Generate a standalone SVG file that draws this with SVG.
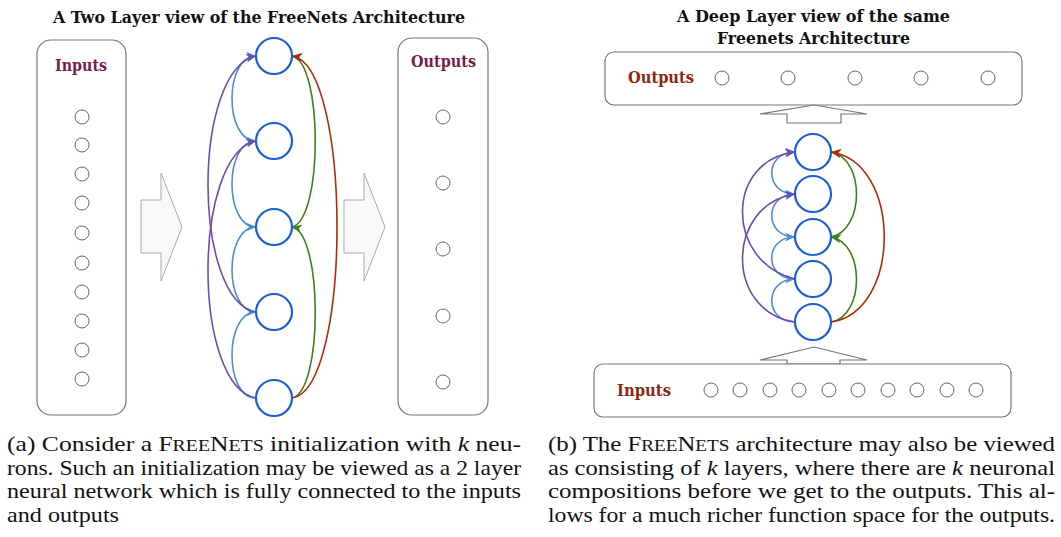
<svg xmlns="http://www.w3.org/2000/svg" width="1061" height="537" viewBox="0 0 1061 537">
<style>
.title{font-family:"DejaVu Serif",serif;font-weight:bold;font-size:17px;fill:#111;text-anchor:middle}
.lblL{font-family:"DejaVu Serif",serif;font-weight:bold;font-size:16px;fill:#7a1c4a;text-anchor:middle}
.lblR{font-family:"DejaVu Serif",serif;font-weight:bold;font-size:16px;fill:#8c2612;text-anchor:middle}
.box{fill:#fff;stroke:#777;stroke-width:1.2}
.io{fill:#fff;stroke:#666;stroke-width:1}
.neu{fill:#fff;stroke:#1a5fd6;stroke-width:2.2}
.bigarrow{fill:#f8f8f8;stroke:#aaa;stroke-width:1}
.uparrow{fill:#fff;stroke:#777;stroke-width:1.2}
.e{fill:none;stroke-width:1.6}
.lb{stroke:#4a8fd2;marker-end:url(#mLb)}
.pu{stroke:#6a4db3;marker-end:url(#mPu)}
.gr{stroke:#3c7f1c;marker-end:url(#mGr)}
.rd{stroke:#b02a06;marker-end:url(#mRd)}
.cap{font-family:"Liberation Serif",serif;font-size:22px;fill:#111}
.sc{font-size:17px}
</style>
<defs>
<marker id="mLb" markerUnits="userSpaceOnUse" markerWidth="11" markerHeight="9" refX="10" refY="4.5" orient="auto"><path d="M0,0 L10,4.5 L0,9 L3,4.5 z" fill="#4a8fd2"/></marker>
<marker id="mPu" markerUnits="userSpaceOnUse" markerWidth="11" markerHeight="9" refX="10" refY="4.5" orient="auto"><path d="M0,0 L10,4.5 L0,9 L3,4.5 z" fill="#6a4db3"/></marker>
<marker id="mGr" markerUnits="userSpaceOnUse" markerWidth="11" markerHeight="9" refX="10" refY="4.5" orient="auto"><path d="M0,0 L10,4.5 L0,9 L3,4.5 z" fill="#3c7f1c"/></marker>
<marker id="mRd" markerUnits="userSpaceOnUse" markerWidth="11" markerHeight="9" refX="10" refY="4.5" orient="auto"><path d="M0,0 L10,4.5 L0,9 L3,4.5 z" fill="#b02a06"/></marker>
</defs>
<rect width="1061" height="537" fill="#fff"/>

<!-- Titles -->
<text class="title" x="259" y="23" textLength="412" lengthAdjust="spacingAndGlyphs">A Two Layer view of the FreeNets Architecture</text>
<text class="title" x="813.5" y="22" textLength="273" lengthAdjust="spacingAndGlyphs">A Deep Layer view of the same</text>
<text class="title" x="813.5" y="44" textLength="193" lengthAdjust="spacingAndGlyphs">Freenets Architecture</text>

<!-- Left panel -->
<g id="inputsA">
<rect class="box" x="37" y="40" width="89" height="375" rx="14"/>
<text class="lblL" x="81" y="71" textLength="52" lengthAdjust="spacingAndGlyphs">Inputs</text>
<circle class="io" cx="82" cy="117" r="7"/><circle class="io" cx="82" cy="145" r="7"/>
<circle class="io" cx="82" cy="174" r="7"/><circle class="io" cx="82" cy="203" r="7"/>
<circle class="io" cx="82" cy="233" r="7"/><circle class="io" cx="82" cy="263" r="7"/>
<circle class="io" cx="82" cy="292" r="7"/><circle class="io" cx="82" cy="321" r="7"/>
<circle class="io" cx="82" cy="350" r="7"/><circle class="io" cx="82" cy="379" r="7"/>
</g>
<g id="arrowA1"><polygon class="bigarrow" points="141,200 161,200 161,173 182,227 161,281 161,253 141,253"/></g>
<g id="arrowA2"><polygon class="bigarrow" points="344,200 364,200 364,173 385,227 364,281 364,253 344,253"/></g>
<g id="outputsA">
<rect class="box" x="398" y="38" width="90" height="377" rx="14"/>
<text class="lblL" x="443.5" y="67" textLength="65" lengthAdjust="spacingAndGlyphs">Outputs</text>
<circle class="io" cx="443" cy="117" r="7"/><circle class="io" cx="443" cy="183" r="7"/>
<circle class="io" cx="443" cy="249" r="7"/><circle class="io" cx="443" cy="316" r="7"/>
<circle class="io" cx="443" cy="382" r="7"/>
</g>

<g id="connectorsA">
<path class="e lb" d="M256,141 C224,141 224,56 256,56"/>
<path class="e lb" d="M256,227 C224,227 224,141 256,141"/>
<path class="e lb" d="M256,312 C224,312 224,227 256,227"/>
<path class="e lb" d="M256,398 C224,398 224,312 256,312"/>
<path class="e pu" d="M256,312 C192,300 192,70 256,56"/>
<path class="e pu" d="M256,398 C192,386 192,155 256,141"/>
<path class="e gr" d="M292,227 C323,220 323,62 292,56"/>
<path class="e gr" d="M292,398 C323,392 323,233 292,227"/>
<path class="e rd" d="M292,398 C352,390 352,64 292,56"/>
</g>
<g id="neuA1"><circle class="neu" cx="274" cy="56" r="18"/></g>
<g id="neuA2"><circle class="neu" cx="274" cy="141" r="18"/></g>
<g id="neuA3"><circle class="neu" cx="274" cy="227" r="18"/></g>
<g id="neuA4"><circle class="neu" cx="274" cy="312" r="18"/></g>
<g id="neuA5"><circle class="neu" cx="274" cy="398" r="18"/></g>

<!-- Right panel -->
<g id="outputsB">
<rect class="box" x="605" y="52" width="417" height="53" rx="9"/>
<text class="lblR" x="661" y="83" textLength="66" lengthAdjust="spacingAndGlyphs">Outputs</text>
<circle class="io" cx="722" cy="78" r="7"/><circle class="io" cx="788" cy="78" r="7"/>
<circle class="io" cx="855" cy="78" r="7"/><circle class="io" cx="921" cy="78" r="7"/>
<circle class="io" cx="988" cy="78" r="7"/>
</g>
<g id="arrowB1"><polygon class="uparrow" points="814,105 867,114 841,114 841,123 787,123 787,114 760,114"/></g>
<g id="arrowB2"><polygon class="uparrow" points="814,347 867,360 840,360 840,364 787,364 787,360 760,360"/></g>
<g id="inputsB">
<rect class="box" x="594" y="364" width="417" height="53" rx="9"/>
<text class="lblR" x="644" y="396" textLength="54" lengthAdjust="spacingAndGlyphs">Inputs</text>
<circle class="io" cx="711" cy="390" r="7"/><circle class="io" cx="740" cy="390" r="7"/>
<circle class="io" cx="770" cy="390" r="7"/><circle class="io" cx="799" cy="390" r="7"/>
<circle class="io" cx="829" cy="390" r="7"/><circle class="io" cx="858" cy="390" r="7"/>
<circle class="io" cx="888" cy="390" r="7"/><circle class="io" cx="917" cy="390" r="7"/>
<circle class="io" cx="947" cy="390" r="7"/><circle class="io" cx="976" cy="390" r="7"/>
</g>

<g id="connectorsB">
<path class="e lb" d="M795,194 C764,194 764,152 795,152"/>
<path class="e lb" d="M795,237 C764,237 764,194 795,194"/>
<path class="e lb" d="M795,279 C764,279 764,237 795,237"/>
<path class="e lb" d="M795,322 C764,322 764,279 795,279"/>
<path class="e pu" d="M795,279 C725,262 725,160 795,152"/>
<path class="e pu" d="M795,322 C725,312 725,205 795,194"/>
<path class="e gr" d="M831,237 C865,230 865,158 831,152"/>
<path class="e gr" d="M831,322 C865,316 865,243 831,237"/>
<path class="e rd" d="M831,322 C902,312 902,162 831,152"/>
</g>
<g id="neuB1"><circle class="neu" cx="813" cy="152" r="18"/></g>
<g id="neuB2"><circle class="neu" cx="813" cy="194" r="18"/></g>
<g id="neuB3"><circle class="neu" cx="813" cy="237" r="18"/></g>
<g id="neuB4"><circle class="neu" cx="813" cy="279" r="18"/></g>
<g id="neuB5"><circle class="neu" cx="813" cy="322" r="18"/></g>

<!-- Captions -->
<g id="captionA" class="cap">
<text x="7" y="451" textLength="514" lengthAdjust="spacingAndGlyphs">(a) Consider a F<tspan class="sc">REE</tspan>N<tspan class="sc">ETS</tspan> initialization with <tspan font-style="italic">k</tspan> neu-</text>
<text x="7" y="475" textLength="514" lengthAdjust="spacingAndGlyphs">rons. Such an initialization may be viewed as a 2 layer</text>
<text x="7" y="498" textLength="514" lengthAdjust="spacingAndGlyphs">neural network which is fully connected to the inputs</text>
<text x="7" y="522" textLength="112" lengthAdjust="spacingAndGlyphs">and outputs</text>
</g>
<g id="captionB" class="cap">
<text x="548" y="451" textLength="507" lengthAdjust="spacingAndGlyphs">(b) The F<tspan class="sc">REE</tspan>N<tspan class="sc">ETS</tspan> architecture may also be viewed</text>
<text x="548" y="475" textLength="507" lengthAdjust="spacingAndGlyphs">as consisting of <tspan font-style="italic">k</tspan> layers, where there are <tspan font-style="italic">k</tspan> neuronal</text>
<text x="548" y="498" textLength="507" lengthAdjust="spacingAndGlyphs">compositions before we get to the outputs.  This al-</text>
<text x="548" y="522" textLength="507" lengthAdjust="spacingAndGlyphs">lows for a much richer function space for the outputs.</text>
</g>
</svg>
